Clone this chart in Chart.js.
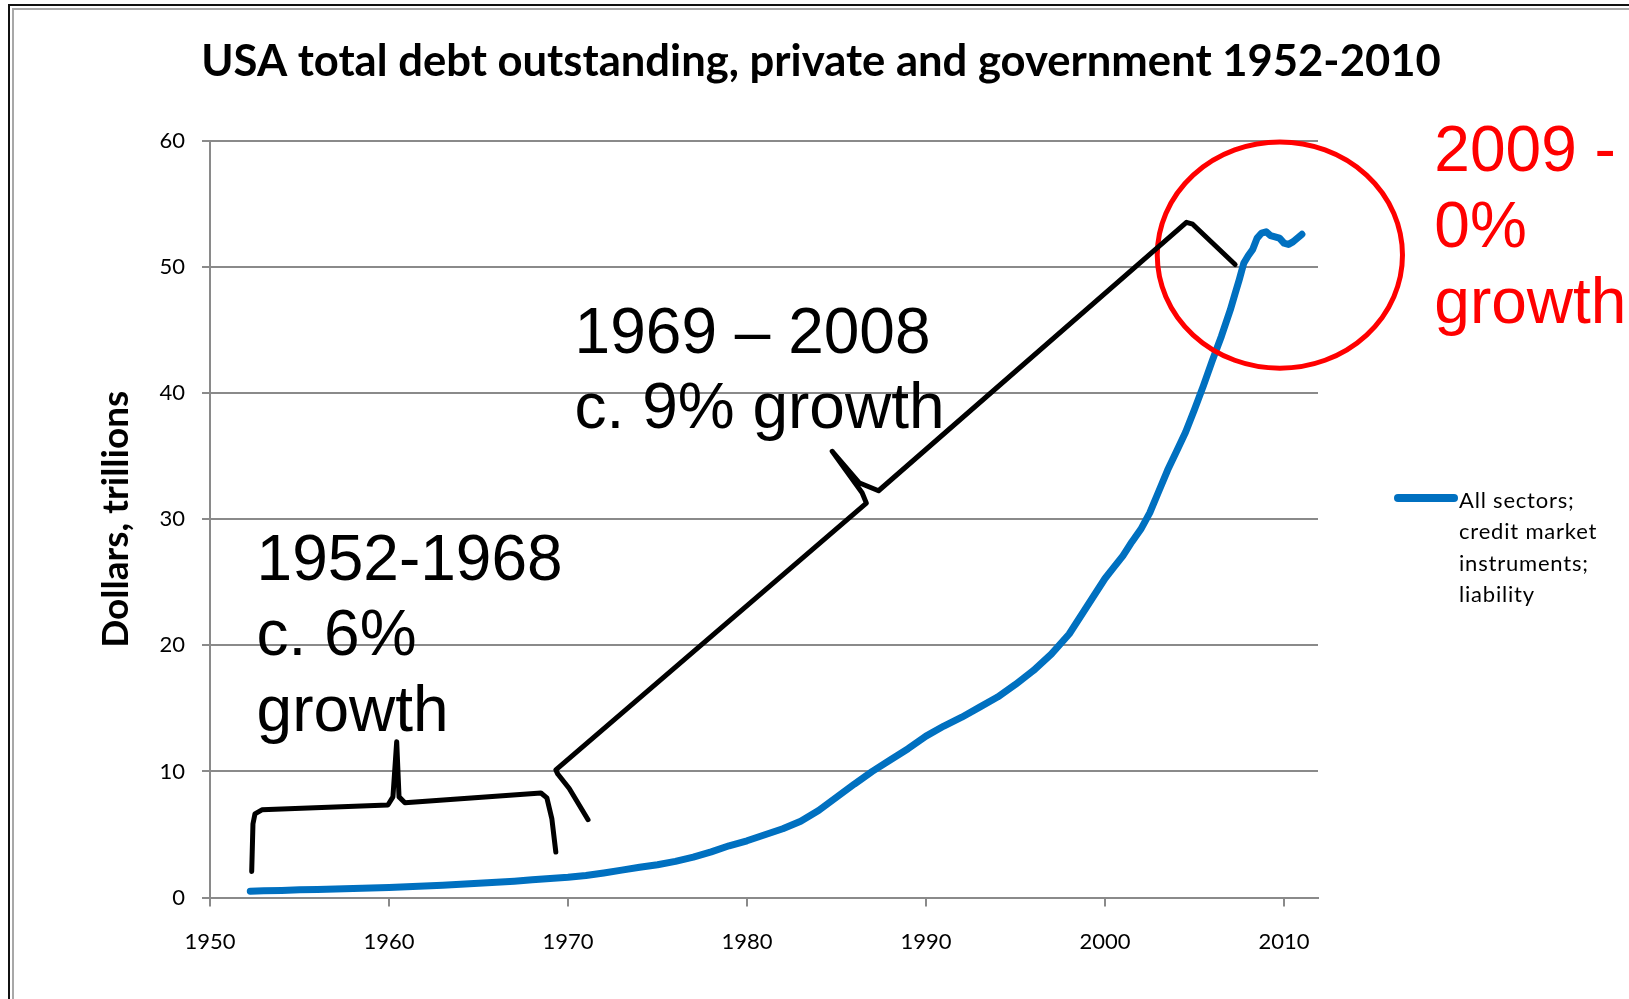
<!DOCTYPE html>
<html>
<head>
<meta charset="utf-8">
<title>USA total debt outstanding</title>
<script src="https://cdn.jsdelivr.net/npm/chart.js@4.4.0/dist/chart.umd.min.js"></script>
<style>
  html, body { margin: 0; padding: 0; background: #fff; }
  #wrap { width: 1629px; height: 999px; }
</style>
</head>
<body>
<div id="wrap"><canvas id="chart" width="1629" height="999"></canvas></div>
<script>
// readings off the flow of funds chart, $ trillions
var years = [1952.25, 1953, 1954, 1955, 1956, 1957, 1958, 1959, 1960, 1961, 1962, 1963, 1964,
  1965, 1966, 1967, 1968, 1969, 1970, 1971, 1972, 1973, 1974, 1975, 1976, 1977, 1978, 1979,
  1980, 1981, 1982, 1983, 1984, 1985, 1986, 1987, 1988, 1989, 1990, 1991, 1992, 1993, 1994,
  1995, 1996, 1997, 1998, 1999, 2000, 2000.5, 2001, 2001.5, 2002, 2002.5, 2003, 2003.5, 2004,
  2004.5, 2005, 2005.5, 2006, 2006.5, 2007, 2007.25, 2007.5, 2007.75, 2008, 2008.25, 2008.5,
  2008.75, 2009, 2009.25, 2009.5, 2009.75, 2010, 2010.25, 2010.5, 2010.75, 2011];
var debt = [0.50, 0.53, 0.56, 0.61, 0.64, 0.67, 0.71, 0.76, 0.80, 0.85, 0.91, 0.98, 1.05,
  1.13, 1.21, 1.29, 1.40, 1.50, 1.60, 1.75, 1.95, 2.17, 2.40, 2.60, 2.87, 3.20, 3.62, 4.10,
  4.50, 4.98, 5.45, 6.05, 6.90, 7.95, 9.00, 10.0, 10.9, 11.8, 12.8, 13.6, 14.3, 15.1, 15.9,
  16.9, 18.0, 19.3, 20.9, 23.1, 25.3, 26.2, 27.1, 28.2, 29.2, 30.5, 32.2, 33.9, 35.4,
  36.9, 38.7, 40.6, 42.6, 44.5, 46.6, 47.8, 49.0, 50.3, 50.9, 51.4, 52.3,
  52.7, 52.8, 52.5, 52.4, 52.3, 51.9, 51.8, 52.0, 52.3, 52.6];
var xTicks = [1950, 1960, 1970, 1980, 1990, 2000, 2010];
var yTicks = [0, 10, 20, 30, 40, 50, 60];
var titleText = 'USA total debt outstanding, private and government 1952-2010';
var yTitle = 'Dollars, trillions';
var legendLines = ['All sectors;', 'credit market', 'instruments;', 'liability'];

// hand drawn notes laid over the chart, as [year, trillions]
var smallBrace = [[1952.33, 2.07], [1952.40, 5.84], [1952.51, 6.63], [1952.90, 6.95],
  [1959.94, 7.34], [1960.22, 7.98], [1960.43, 12.36], [1960.56, 7.98], [1960.89, 7.51],
  [1968.49, 8.29], [1968.82, 7.90], [1969.10, 6.23], [1969.32, 3.60]];
var bigBrace = [[1971.12, 6.17], [1970.07, 8.64], [1969.43, 9.79], [1969.32, 10.12],
  [1986.67, 31.28], [1986.43, 32.1], [1984.76, 35.39], [1986.26, 32.9], [1987.35, 32.26],
  [2004.55, 53.55], [2004.9, 53.4], [2007.27, 50.2]];
var ring = {year: 2009.77, value: 50.95, yearsWide: 6.85, valueHigh: 8.97};
var noteEarly = {at: [1952.6, 25.2], lines: ['1952-1968', 'c. 6%', 'growth']};
var noteLate = {at: [1970.37, 43.2], lines: ['1969 \u2013 2008', 'c. 9% growth']};
var noteRecent = {at: [2018.4, 57.6], lines: ['2009 -', '0%', 'growth']};

var blue = '#0070C0';
var gridGrey = '#8a8a8a';

function trace(ctx, pts, xs, ys) {
  ctx.beginPath();
  pts.forEach(function(p, i) {
    var px = xs.getPixelForValue(p[0]), py = ys.getPixelForValue(p[1]);
    if (i) ctx.lineTo(px, py); else ctx.moveTo(px, py);
  });
  ctx.stroke();
}

function writeNote(ctx, note, xs, ys) {
  var x = xs.getPixelForValue(note.at[0]);
  note.lines.forEach(function(line, i) {
    ctx.fillText(line, x, ys.getPixelForValue(note.at[1] - i * 6));
  });
}

var overlay = {
  id: 'overlay',
  beforeDraw: function(chart) {
    var ctx = chart.ctx, w = chart.width, h = chart.height;
    ctx.save();
    ctx.fillStyle = '#fff';
    ctx.fillRect(0, 0, w, h);
    // slide frame, top and left only
    ctx.lineWidth = 2;
    ctx.strokeStyle = '#111';
    ctx.beginPath(); ctx.moveTo(9, h); ctx.lineTo(9, 5); ctx.lineTo(w, 5); ctx.stroke();
    ctx.strokeStyle = '#a8a8a8';
    ctx.beginPath(); ctx.moveTo(13, h); ctx.lineTo(13, 9); ctx.lineTo(w, 9); ctx.stroke();

    ctx.fillStyle = '#000';
    ctx.font = 'bold 43.6px Lato';
    ctx.textAlign = 'center';
    ctx.textBaseline = 'alphabetic';
    ctx.fillText(titleText, 821, 76);
    ctx.restore();
  },
  afterDatasetsDraw: function(chart) {
    var ctx = chart.ctx, xs = chart.scales.x, ys = chart.scales.y, area = chart.chartArea;
    ctx.save();
    ctx.lineCap = 'round';
    ctx.lineJoin = 'round';

    ctx.strokeStyle = '#ff0000';
    ctx.lineWidth = 5;
    var cx = xs.getPixelForValue(ring.year), cy = ys.getPixelForValue(ring.value);
    var rx = xs.getPixelForValue(ring.year + ring.yearsWide) - cx;
    var ry = cy - ys.getPixelForValue(ring.value + ring.valueHigh);
    ctx.beginPath();
    ctx.ellipse(cx, cy, rx, ry, 0, 0, Math.PI * 2);
    ctx.stroke();

    ctx.strokeStyle = '#000';
    ctx.lineWidth = 5;
    trace(ctx, smallBrace, xs, ys);
    trace(ctx, bigBrace, xs, ys);

    ctx.textAlign = 'left';
    ctx.textBaseline = 'alphabetic';
    ctx.font = '64px "Liberation Sans"';
    ctx.fillStyle = '#000';
    writeNote(ctx, noteEarly, xs, ys);
    writeNote(ctx, noteLate, xs, ys);
    ctx.fillStyle = '#ff0000';
    writeNote(ctx, noteRecent, xs, ys);

    // legend, wrapped the way the spreadsheet wraps it
    var lx = area.right + 80, ly = 498;
    ctx.strokeStyle = blue;
    ctx.lineWidth = 8;
    ctx.beginPath(); ctx.moveTo(lx, ly); ctx.lineTo(lx + 56, ly); ctx.stroke();
    ctx.fillStyle = '#000';
    ctx.font = '22px Lato';
    ctx.letterSpacing = '0.8px';
    legendLines.forEach(function(line, i) {
      ctx.fillText(line, lx + 61, ly + 10 + i * 31.3);
    });
    ctx.restore();
  }
};

var points = years.map(function(y, i) { return {x: y, y: debt[i]}; });

new Chart(document.getElementById('chart'), {
  type: 'line',
  data: {
    datasets: [{
      label: legendLines.join(' '),
      data: points,
      borderColor: blue,
      backgroundColor: blue,
      borderWidth: 7,
      borderCapStyle: 'round',
      borderJoinStyle: 'round',
      pointRadius: 0,
      tension: 0
    }]
  },
  options: {
    responsive: false,
    animation: false,
    devicePixelRatio: 1,
    layout: { padding: { top: 141, right: 311, bottom: 0, left: 0 } },
    plugins: {
      legend: { display: false },
      title: { display: false },
      tooltip: { enabled: false }
    },
    scales: {
      x: {
        type: 'linear',
        min: 1950,
        max: 2011.9,
        afterBuildTicks: function(s) { s.ticks = xTicks.map(function(v) { return {value: v}; }); },
        afterFit: function(s) { s.height = 101.5; },
        grid: { drawOnChartArea: false, drawTicks: true, tickLength: 9, color: gridGrey, lineWidth: 2 },
        border: { color: gridGrey, width: 2 },
        ticks: {
          padding: 22,
          maxRotation: 0,
          color: '#000',
          font: { family: 'Lato', size: 22 },
          callback: function(v) { return String(v); }
        }
      },
      y: {
        min: 0,
        max: 60,
        afterBuildTicks: function(s) { s.ticks = yTicks.map(function(v) { return {value: v}; }); },
        afterFit: function(s) { s.width = 210; },
        grid: { drawTicks: true, tickLength: 8, color: gridGrey, lineWidth: 2 },
        border: { color: gridGrey, width: 2 },
        ticks: {
          padding: 17,
          color: '#000',
          font: { family: 'Lato', size: 22 }
        },
        title: {
          display: true,
          text: yTitle,
          color: '#000',
          font: { family: 'Lato', size: 37, weight: 'bold' },
          padding: { top: 94, bottom: 0 }
        }
      }
    }
  },
  plugins: [overlay]
});
</script>
</body>
</html>
